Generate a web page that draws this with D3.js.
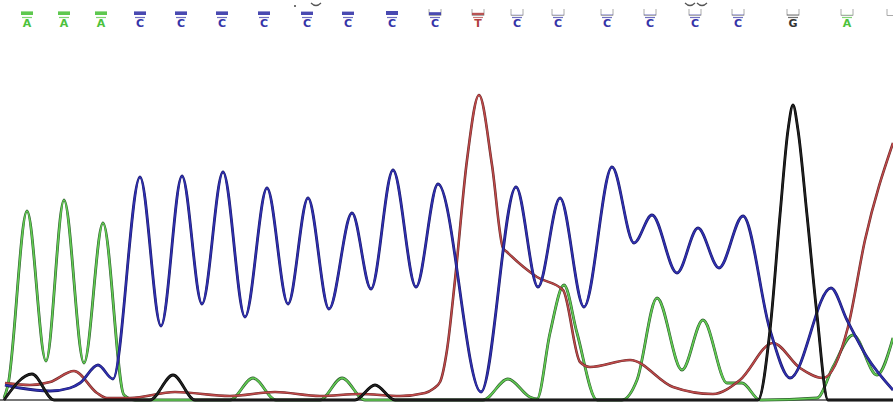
<!DOCTYPE html>
<html>
<head>
<meta charset="utf-8">
<script src="https://cdn.jsdelivr.net/npm/d3@7"></script>
<style>
  body { margin: 0; background: #fff; }
  svg { display: block; }
</style>
</head>
<body>
<svg id="chart"></svg>
<script>
// base calls along the top: scan position, letter, quality (0..1)
// the last call is cut at the right edge, only its bracket shows
var basePos  = [27, 64, 101, 140, 181, 222, 264, 307, 348, 392, 435, 478, 517, 558, 607, 650, 695, 738, 793, 847, 893];
var baseCall = ["A","A","A","C","C","C","C","C","C","C","C","T","C","C","C","C","C","C","G","A",""];
var baseQual = [0.9, 0.9, 0.9, 0.9, 0.9, 0.9, 0.9, 0.85, 0.85, 1.0, 0.7, 0.55, 0.05, 0.05, 0.1, 0.1, 0.1, 0.1, 0.1, 0.05, 0];

// traces: [scan, intensity]
var traceA = [[4,2],[8,15],[27,189],[46,39],[64,200],[84,37],[103,177],[124,5],[135,0],
  [230,0],[253,22],[276,0],[320,0],[342,22],[365,0],[483,0],[508,21],[530,3],[537,1],
  [550,67],[564,115],[577,67],[597,0],[622,0],[637,20],[657,102],[682,30],[703,80],
  [727,17],[742,17],[760,0],[817,2],[833,33],[853,65],[877,25],[893,62]];
var traceC = [[5,15],[20,12],[50,9],[70,12],[80,17],[98,35],[113,21],[140,223],[161,74],
  [182,224],[202,96],[223,228],[245,83],[267,212],[288,96],[308,202],[329,91],[352,187],
  [371,111],[393,230],[416,113],[438,216],[481,8],[516,213],[538,113],[560,202],[584,93],
  [612,233],[634,157],[652,185],[677,127],[698,172],[719,132],[743,184],[770,70],[790,22],
  [831,112],[847,80],[867,43],[893,10]];
var traceG = [[4,0],[32,26],[54,0],[150,0],[173,25],[195,0],[355,0],[375,15],[395,0],
  [758,0],[770,70],[780,185],[788,270],[793,295],[798,270],[807,185],[817,85],[828,0],[893,0]];
var traceT = [[5,17],[30,15],[50,18],[74,29],[97,7],[107,2],[130,2],[175,8],[230,4],
  [275,8],[320,4],[360,6],[400,4],[425,7],[433,11],[440,18],[447,50],[455,120],[467,240],
  [479,305],[492,235],[503,152],[507,148],[537,123],[563,110],[580,38],[590,33],[630,40],
  [673,13],[713,6],[740,20],[773,57],[800,32],[823,22],[848,73],[865,160],[893,257]];

var width = 893, height = 402;
var svg = d3.select("#chart").attr("width", width).attr("height", height);

var x = d3.scaleLinear().domain([0, 893]).range([0, 893]);
var y = d3.scaleLinear().domain([0, 400]).range([400, 0]);

var line = d3.line()
  .x(function(d) { return x(d[0]); })
  .y(function(d) { return y(d[1]); })
  .curve(d3.curveMonotoneX);

// baseline
svg.append("line")
  .attr("x1", 0).attr("x2", width)
  .attr("y1", y(0)).attr("y2", y(0))
  .attr("stroke", "#777").attr("stroke-width", 2);

var traces = [
  { data: traceA, under: "#2f5f2f", color: "#62cc52", w: 1.6 },
  { data: traceT, under: "#6a2a2a", color: "#c04a4a", w: 1.4 },
  { data: traceC, under: "#1a1a6a", color: "#3030b0", w: 1.6 },
  { data: traceG, under: "#000", color: "#222", w: 1.6 }
];

traces.forEach(function(t) {
  svg.append("path").datum(t.data)
    .attr("fill", "none").attr("stroke", t.under)
    .attr("stroke-width", t.w + 1.2).attr("stroke-linejoin", "round")
    .attr("d", line);
  svg.append("path").datum(t.data)
    .attr("fill", "none").attr("stroke", t.color)
    .attr("stroke-width", t.w).attr("stroke-linejoin", "round")
    .attr("d", line);
});

var baseColor = { A: "#4cc23c", C: "#3535a8", G: "#333", T: "#b04040", "": "#aaa" };

var calls = svg.append("g").selectAll("g")
  .data(baseCall.map(function(b, i) { return { b: b, x: basePos[i], q: baseQual[i] }; }))
  .enter().append("g")
  .attr("transform", function(d) { return "translate(" + x(d.x) + ",0)"; });

// quality bracket
calls.append("path")
  .attr("d", "M-6,9V15.5H6V9")
  .attr("fill", "none")
  .attr("stroke", function(d) { return d.q > 0.8 ? "none" : "#aaa"; })
  .attr("stroke-width", 1);

calls.append("rect")
  .attr("x", -6).attr("width", 12)
  .attr("y", function(d) { return 15 - 4 * d.q; })
  .attr("height", function(d) { return 4 * d.q; })
  .attr("fill", function(d) { return baseColor[d.b]; })
  .attr("opacity", 0.9);

var letters = calls.filter(function(d) { return d.b !== ""; });

letters.append("line")
  .attr("x1", -5).attr("x2", 5).attr("y1", 17.5).attr("y2", 17.5)
  .attr("stroke", function(d) { return baseColor[d.b]; })
  .attr("stroke-width", 1.2).attr("opacity", 0.7);

letters.append("text")
  .attr("text-anchor", "middle")
  .attr("y", 27)
  .attr("font-family", "DejaVu Sans, sans-serif")
  .attr("font-size", 11)
  .attr("font-weight", "bold")
  .attr("fill", function(d) { return baseColor[d.b]; })
  .text(function(d) { return d.b; });

// small marks above a couple of calls
svg.append("circle").attr("cx", x(295)).attr("cy", 6).attr("r", 1).attr("fill", "#444");
[316, 690, 702].forEach(function(p) {
  svg.append("path")
    .attr("d", "M" + (x(p) - 5) + ",3 Q" + x(p) + ",8 " + (x(p) + 5) + ",3")
    .attr("fill", "none").attr("stroke", "#555").attr("stroke-width", 1.2);
});
</script>
</body>
</html>
